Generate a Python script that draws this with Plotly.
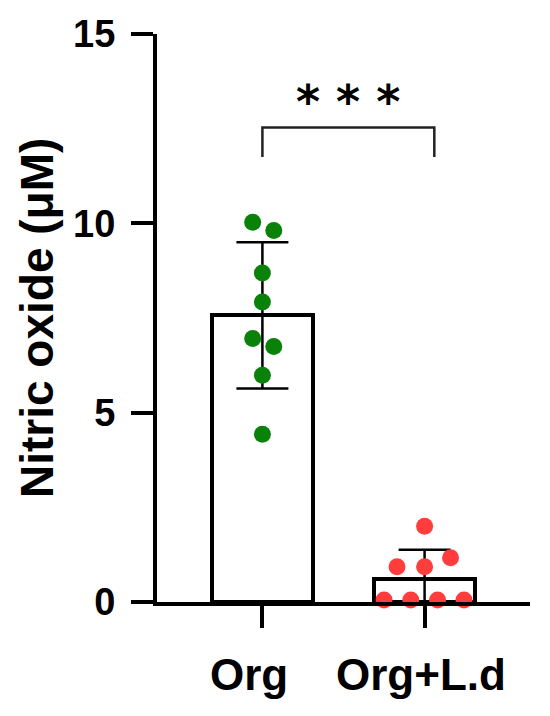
import plotly.graph_objects as go

# ---- data ----
groups = ["Org", "Org+L.d"]
means = [7.57, 0.62]
sds = [1.93, 0.76]
org_values = [10.03, 9.81, 8.69, 7.92, 6.96, 6.75, 5.99, 4.43]
org_offsets = [-0.06, 0.07, 0.0, 0.0, -0.06, 0.07, 0.0, 0.0]
ld_values = [2.0, 0.93, 0.93, 1.17, 0.05, 0.05, 0.05, 0.05]
ld_offsets = [0.0, -0.17, 0.0, 0.16, -0.25, -0.085, 0.08, 0.243]
y_ticks = [0, 5, 10, 15]
sig_label = "* * *"
bracket_x = [0, 1.06]
bracket_y = [11.75, 12.53]

FONT = "Liberation Sans"
label_shift = [-13, -4]

fig = go.Figure()
fig.add_trace(go.Bar(
    x=[0, 1], y=means, width=0.62,
    marker=dict(color="white", line=dict(color="black", width=4)),
    error_y=dict(type="data", array=sds, visible=True, color="black",
                 thickness=2.5, width=26),
    showlegend=False,
))
fig.add_trace(go.Scatter(
    x=[0 + o for o in org_offsets], y=org_values, mode="markers",
    marker=dict(color="#0a820a", size=17, line=dict(width=0)),
    cliponaxis=False, showlegend=False,
))
fig.add_trace(go.Scatter(
    x=[1 + o for o in ld_offsets], y=ld_values, mode="markers",
    marker=dict(color="#ff3d3d", size=17, line=dict(width=0)),
    cliponaxis=False, showlegend=False,
))

# significance bracket
fig.add_shape(type="path",
              path=f"M {bracket_x[0]},{bracket_y[0]} L {bracket_x[0]},{bracket_y[1]} "
                   f"L {bracket_x[1]},{bracket_y[1]} L {bracket_x[1]},{bracket_y[0]}",
              line=dict(color="#222222", width=2.5), xref="x", yref="y")
fig.add_annotation(x=(bracket_x[0] + bracket_x[1]) / 2, y=bracket_y[1], yshift=26,
                   text=sig_label, showarrow=False, xref="x", yref="y",
                   yanchor="middle", xanchor="center",
                   font=dict(family="DejaVu Sans", size=46, color="black", weight="bold"))

# y title
fig.add_annotation(x=-0.3217, y=0.5, xref="paper", yref="paper",
                   xanchor="center", yanchor="middle",
                   text="Nitric oxide (μM)", textangle=-90, showarrow=False,
                   font=dict(family=FONT, size=46, color="black", weight="bold"))

# category labels
for i, g in enumerate(groups):
    fig.add_annotation(x=i, y=-0.1285, xref="x", yref="paper",
                       xanchor="center", yanchor="middle", xshift=label_shift[i],
                       text=g, showarrow=False,
                       font=dict(family=FONT, size=44, color="black", weight="bold"))

fig.update_layout(
    width=550, height=716,
    margin=dict(l=157, r=20, t=34, b=114),
    plot_bgcolor="white", paper_bgcolor="white",
    bargap=0,
)
fig.update_xaxes(
    range=[-0.65, 1.65], showgrid=False, zeroline=False,
    showline=True, linewidth=4, linecolor="black",
    ticks="outside", ticklen=22, tickwidth=4, tickcolor="black",
    tickvals=[0, 1], showticklabels=False,
)
fig.update_yaxes(
    range=[0, 15], showgrid=False, zeroline=False,
    showline=True, linewidth=4, linecolor="black",
    ticks="outside", ticklen=22, tickwidth=4, tickcolor="black",
    tickvals=y_ticks, ticklabelstandoff=8,
    tickfont=dict(family=FONT, size=38, color="black", weight="bold"),
)

fig.write_html("out.html", config={"displayModeBar": False},
               post_script="document.body.style.margin='0';")
